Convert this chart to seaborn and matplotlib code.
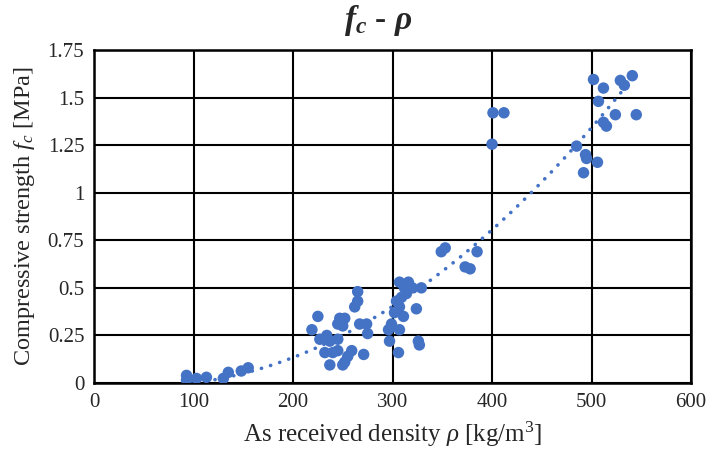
import matplotlib
matplotlib.use("Agg")
import matplotlib.pyplot as plt
import numpy as np
import pandas as pd
import seaborn as sns

# -----------------------------
# Data
# -----------------------------
density = [
    93, 93, 103, 113, 130, 135, 148, 155,
    265, 265, 262, 225, 219, 247, 252, 245, 250, 267, 274, 227, 234, 237,
    245, 232, 240, 245, 259, 271, 237, 252, 250, 255, 275,
    307, 316, 312, 320, 329, 309, 307, 324, 311, 299, 296, 307, 297, 326,
    327, 306, 304, 314, 302,
    353, 349, 385, 373, 378,
    401, 412, 400, 485, 494, 495, 492, 506, 502, 512, 507, 529, 533, 541,
    524, 545, 512, 515,
]
strength = [
    0.04, 0.016, 0.024, 0.03, 0.024, 0.056, 0.063, 0.08,
    0.48, 0.43, 0.40, 0.35, 0.28, 0.34, 0.34, 0.31, 0.30, 0.31, 0.31, 0.23, 0.25, 0.22,
    0.23, 0.16, 0.16, 0.17, 0.17, 0.15, 0.095, 0.11, 0.095, 0.14, 0.26,
    0.53, 0.53, 0.50, 0.50, 0.50, 0.45, 0.40, 0.39, 0.35, 0.31, 0.28, 0.28, 0.22, 0.22,
    0.20, 0.16, 0.43, 0.47, 0.37,
    0.71, 0.69, 0.69, 0.61, 0.60,
    1.42, 1.42, 1.255, 1.245, 1.20, 1.18, 1.105, 1.16, 1.595, 1.55, 1.48, 1.59, 1.565, 1.615,
    1.41, 1.41, 1.37, 1.35,
]
x_ticks = [0, 100, 200, 300, 400, 500, 600]
y_ticks = [0, 0.25, 0.5, 0.75, 1, 1.25, 1.5, 1.75]
y_tick_labels = ["0", "0.25", "0.5", "0.75", "1", "1.25", "1.5", "1.75"]

df = pd.DataFrame({"density": density, "strength": strength})

# -----------------------------
# Style
# -----------------------------
sns.set_style("white")
plt.rcParams["font.family"] = ["Liberation Serif", "DejaVu Serif"]
plt.rcParams["mathtext.fontset"] = "custom"
plt.rcParams["mathtext.rm"] = "Liberation Serif"
plt.rcParams["mathtext.it"] = "Liberation Serif:italic"
plt.rcParams["mathtext.bf"] = "Liberation Serif:bold"
plt.rcParams["mathtext.bfit"] = "Liberation Serif:italic:bold"

blue = "#4472C4"

fig = plt.figure(figsize=(7.06, 4.63), dpi=100)
ax = fig.add_axes([94 / 706, 80 / 463, 597 / 706, 333 / 463])

sns.scatterplot(data=df, x="density", y="strength", ax=ax, color=blue,
                s=68, edgecolor="none", zorder=3)

# 2nd order polynomial trend line (like Excel)
coef = np.polyfit(df["density"], df["strength"], 2)
xs = np.linspace(df["density"].min(), df["density"].max(), 200)
ax.plot(xs, np.polyval(coef, xs), color=blue, linestyle=(0, (0.05, 2.6)),
        linewidth=2.6, dash_capstyle="round", zorder=2)

ax.set_xlim(0, 600)
ax.set_ylim(0, 1.75)
ax.set_xticks(x_ticks)
ax.set_yticks(y_ticks)
ax.set_yticklabels(y_tick_labels)
ax.tick_params(labelsize=15, length=0, pad=7)
ax.grid(True, color="black", linewidth=1.5)
ax.set_axisbelow(True)
for sp in ax.spines.values():
    sp.set_color("black")
    sp.set_linewidth(1.8)

ax.set_xlabel(r"As received density $\it{\rho}$ [kg/m$^3$]", fontsize=18, labelpad=6)
ax.set_ylabel(r"Compressive strength $f_c$ [MPa]", fontsize=17.5, labelpad=8)
fig.text(378 / 706, 1 - 20 / 463, r"$\mathbfit{f_c}$ - $\mathbfit{\rho}$",
         fontsize=24, fontweight="bold", ha="center", va="center")

fig.savefig("out.png", dpi=100)
